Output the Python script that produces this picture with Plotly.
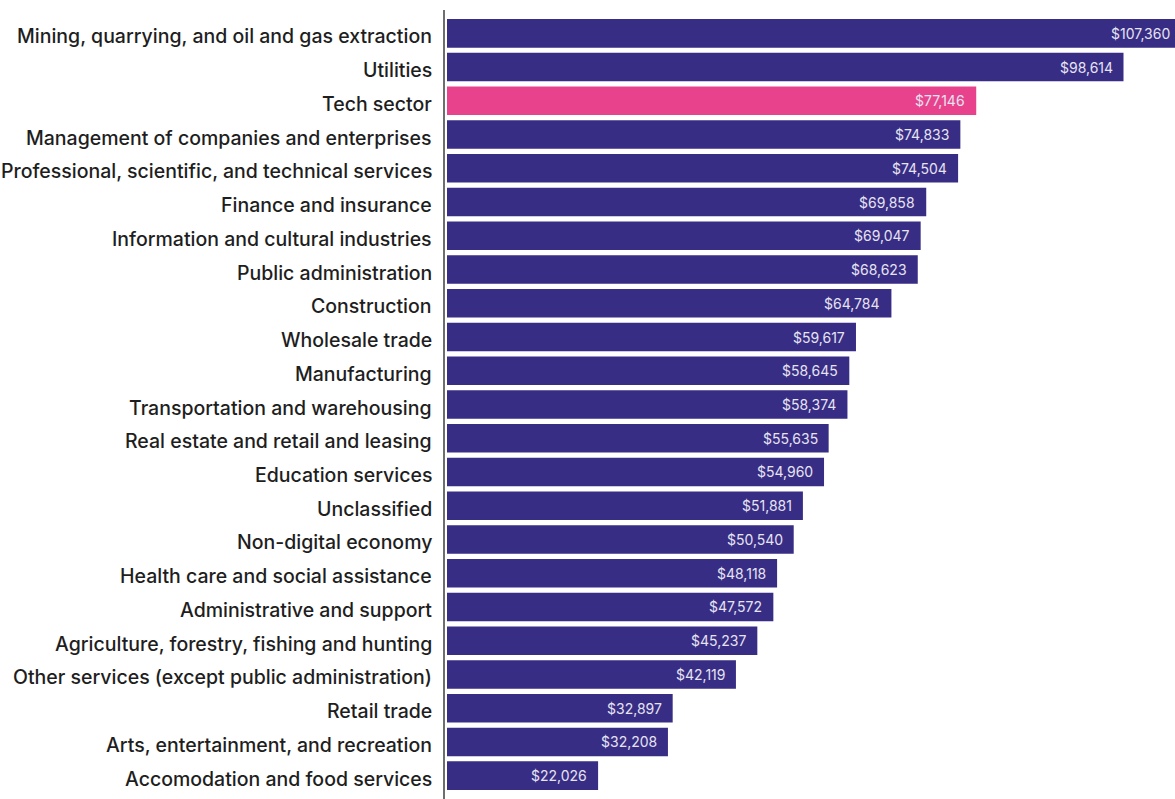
import plotly.graph_objects as go

# Average annual earnings by sector
sectors = [
    "Mining, quarrying, and oil and gas extraction",
    "Utilities",
    "Tech sector",
    "Management of companies and enterprises",
    "Professional, scientific, and technical services",
    "Finance and insurance",
    "Information and cultural industries",
    "Public administration",
    "Construction",
    "Wholesale trade",
    "Manufacturing",
    "Transportation and warehousing",
    "Real estate and retail and leasing",
    "Education services",
    "Unclassified",
    "Non-digital economy",
    "Health care and social assistance",
    "Administrative and support",
    "Agriculture, forestry, fishing and hunting",
    "Other services (except public administration)",
    "Retail trade",
    "Arts, entertainment, and recreation",
    "Accomodation and food services",
]
earnings = [
    107360, 98614, 77146, 74833, 74504, 69858, 69047, 68623, 64784, 59617,
    58645, 58374, 55635, 54960, 51881, 50540, 48118, 47572, 45237, 42119,
    32897, 32208, 22026,
]
highlight = "Tech sector"

NAVY = "#382d84"
PINK = "#e8428c"
colors = [PINK if s == highlight else NAVY for s in sectors]

X_MIN, X_MAX = -292, 106122

fig = go.Figure(
    go.Bar(
        x=earnings,
        y=sectors,
        orientation="h",
        marker=dict(color=colors, line=dict(width=0)),
        width=0.85,
        hoverinfo="skip",
    )
)

label_font = dict(family="Inter, sans-serif", size=19.5, color="#1e1e1e", weight=500)
value_font = dict(family="Inter, sans-serif", size=14, color="#e6e3f2")

for s, v in zip(sectors, earnings):
    # sector name to the left of the axis line
    fig.add_annotation(
        x=0, y=s, xref="paper", yref="y",
        text=s, showarrow=False,
        xanchor="right", xshift=-11, yshift=-3,
        font=label_font,
    )
    # value at the end of the bar (kept inside the visible range)
    fig.add_annotation(
        x=min(v, X_MAX), y=s, xref="x", yref="y",
        text=f"${v:,}",
        showarrow=False,
        xanchor="right",
        xshift=-9 if v <= X_MAX else -3,
        font=value_font,
    )

fig.update_layout(
    width=1175,
    height=799,
    margin=dict(l=445, r=0, t=10, b=0),
    paper_bgcolor="white",
    plot_bgcolor="white",
    showlegend=False,
    xaxis=dict(
        range=[X_MIN, X_MAX],
        visible=False,
        showgrid=False,
        zeroline=False,
    ),
    yaxis=dict(
        range=[22.69, -0.69],
        showline=True,
        linecolor="#6e6e6e",
        linewidth=2,
        showgrid=False,
        zeroline=False,
        ticks="",
        showticklabels=False,
    ),
)

fig.write_html("out.html")
